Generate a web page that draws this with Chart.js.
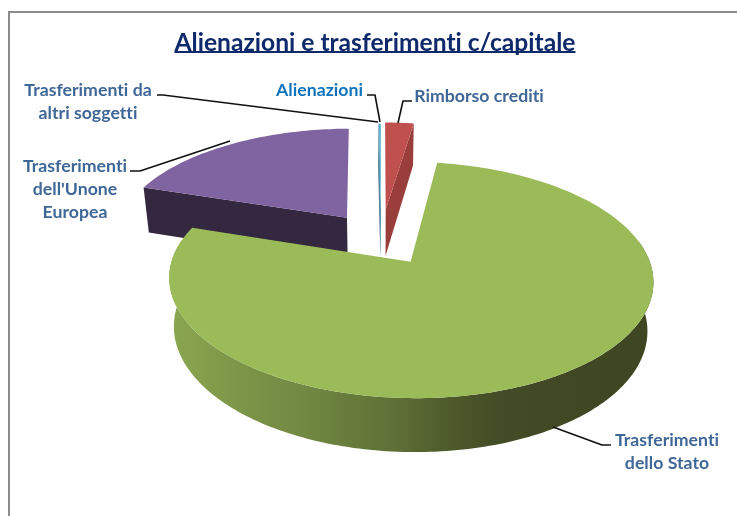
<!DOCTYPE html>
<html><head><meta charset="utf-8">
<style>html,body{margin:0;padding:0;background:#fff;overflow:hidden}canvas{display:block}</style>
<script src="https://cdn.jsdelivr.net/npm/chart.js@4"></script></head>
<body><canvas id="c" width="737" height="516"></canvas>
<script>
const categories = ["Rimborso crediti","Trasferimenti dello Stato","Trasferimenti dell'Unone Europea","Trasferimenti da altri soggetti","Alienazioni"];
const values = [2.35, 77.65, 19.8, 0.05, 0.15];
const topColors = ["#c0504d","#9bbb59","#8064a2","#7f9fc0","#4bacc6"];
const wallColors = ["#9a3e3c",null,"#332840","#5f7f9f","#3f8ba3"];
const explode = [0.285,0.235,0.255,0.27,0.27];
const titleText = "Alienazioni e trasferimenti c/capitale";

const RAD = 232;
const VIEW = {cx:381, a:0.15, top:{cy:239.4,b:108.5,s:1}, bot:{cy:286.5,b:113.2,s:0.978}};
function proj(u,v,pl){
  const d = 1+VIEW.a*v;
  return [VIEW.cx + pl.s*RAD*u/d, pl.cy - pl.b*v/d];
}
function slicePts(arc,e){
  const mid=(arc.startAngle+arc.endAngle)/2;
  const u0=Math.cos(mid)*e, v0=-Math.sin(mid)*e;
  const n=Math.max(2,Math.ceil((arc.endAngle-arc.startAngle)/0.02));
  const rim=[], front=[];
  for(let i=0;i<=n;i++){
    const t=arc.startAngle+(arc.endAngle-arc.startAngle)*i/n;
    const p=[u0+Math.cos(t),v0-Math.sin(t)];
    rim.push(p);
    if(Math.sin(t)>-0.2) front.push(p);   // rim points whose wall can face the viewer
  }
  return {c:[u0,v0],rim,front};
}
function poly(ctx,pts,fill){
  ctx.beginPath();
  pts.forEach((p,i)=>i?ctx.lineTo(p[0],p[1]):ctx.moveTo(p[0],p[1]));
  ctx.closePath();ctx.fillStyle=fill;ctx.fill();
}
function greenWall(ctx){
  const g=ctx.createLinearGradient(170,0,650,0);
  [[0,"#8ba650"],[0.12,"#7f9849"],[0.3,"#6f8641"],[0.48,"#5d6e35"],[0.58,"#4e5a2b"],[0.7,"#424b25"],[1,"#3d4621"]]
    .forEach(s=>g.addColorStop(s[0],s[1]));
  return g;
}
const pie3d={
  id:'pie3d',
  beforeDraw(chart){ chart.ctx.letterSpacing='0.01px'; },
  beforeDatasetDraw(chart,args){
    const ctx=chart.ctx, arcs=chart.getDatasetMeta(args.index).data;
    [3,4,2,0,1].forEach(i=>{
      const arc=arcs[i], e=arc.options.offset/4/arc.outerRadius;
      const s=slicePts(arc,e);
      const T=s.rim.map(p=>proj(p[0],p[1],VIEW.top));
      const B=s.rim.map(p=>proj(p[0],p[1],VIEW.bot));
      const cT=proj(s.c[0],s.c[1],VIEW.top), cB=proj(s.c[0],s.c[1],VIEW.bot);
      const wall=wallColors[i]||greenWall(ctx);
      const wide=arc.endAngle-arc.startAngle>0.05;
      // radial faces: a wide slice only shows the face turned towards the viewer
      if(!wide||Math.cos(arc.startAngle)<-0.01) poly(ctx,[cT,T[0],B[0],cB],wall);
      if(!wide||Math.cos(arc.endAngle)>0.01) poly(ctx,[cT,T[T.length-1],B[B.length-1],cB],wall);
      if(s.front.length>1){
        const fT=s.front.map(p=>proj(p[0],p[1],VIEW.top));
        const fB=s.front.map(p=>proj(p[0],p[1],VIEW.bot));
        poly(ctx,fT.concat(fB.reverse()),wall);
      }
      poly(ctx,[cT].concat(T),arc.options.backgroundColor);
    });
    return false;
  },
  afterDraw(chart){
    const ctx=chart.ctx;
    ctx.save();
    // frame
    ctx.strokeStyle="#8c8c8c";ctx.lineWidth=2;
    ctx.beginPath();ctx.moveTo(737,12);ctx.lineTo(9,12);ctx.lineTo(9,516);ctx.stroke();
    // title underline
    const tb=chart.titleBlock, tc=(tb.left+tb.right)/2;
    const tf=chart.options.plugins.title.font;
    ctx.font=tf.weight+" "+tf.size+"px "+tf.family;
    const w=ctx.measureText(titleText).width;
    ctx.strokeStyle="#0f2a6b";ctx.lineWidth=2;
    ctx.beginPath();ctx.moveTo(tc-w/2,52);ctx.lineTo(tc+w/2,52);ctx.stroke();
    // leaders
    ctx.strokeStyle="#111";ctx.lineWidth=1.6;ctx.lineJoin="round";
    [[[157,95],[163,95],[378,122]],
     [[367,95],[375,95],[380,122]],
     [[412,101],[403,101],[398,123]],
     [[130,171],[140,171],[230,141]],
     [[611,445],[602,445],[553,427]]].forEach(l=>{
      ctx.beginPath();l.forEach((p,i)=>i?ctx.lineTo(p[0],p[1]):ctx.moveTo(p[0],p[1]));ctx.stroke();
    });
    // labels
    ctx.textAlign="center";ctx.textBaseline="middle";
    ctx.font='bold 17.7px Lato';
    ctx.fillStyle="#3f6797";
    [["Trasferimenti da",88,90],["altri soggetti",88,113],
     ["Rimborso crediti",479,96],
     ["Trasferimenti",75,166],["dell'Unone",75,189],["Europea",75,212],
     ["Trasferimenti",667,440],["dello Stato",667,463]].forEach(t=>ctx.fillText(t[0],t[1],t[2]));
    ctx.fillStyle="#0f74bd";
    ctx.fillText("Alienazioni",319.5,90);
    ctx.restore();
  }
};
new Chart(document.getElementById('c'),{
  type:'pie',
  data:{labels:categories,datasets:[{data:values,backgroundColor:topColors,borderWidth:0,
    offset:explode.map(e=>e*RAD*4)}]},
  options:{
    responsive:false,animation:false,radius:RAD,
    layout:{padding:{left:13,top:28}},
    plugins:{
      legend:{display:false},tooltip:{enabled:false},
      title:{display:true,text:titleText,color:"#0f2a6b",padding:0,
        font:{family:'Lato',weight:'bold',size:24.6}}
    }
  },
  plugins:[pie3d]
});
</script></body></html>
